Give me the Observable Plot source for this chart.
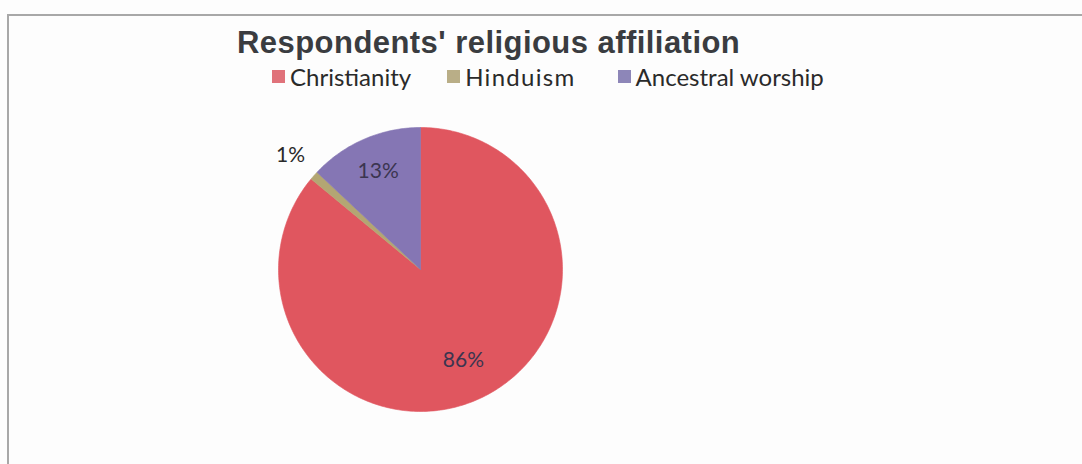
<!DOCTYPE html>
<html>
<head>
<meta charset="utf-8">
<script src="https://cdn.jsdelivr.net/npm/d3@7"></script>
<script src="https://cdn.jsdelivr.net/npm/@observablehq/plot@0.6"></script>
<style>
  html, body { margin: 0; padding: 0; background: #fdfdfd; }
  #wrap { position: relative; width: 1082px; height: 464px; overflow: hidden; background: #fdfdfd; }
  #frame { position: absolute; left: 7px; top: 14px; width: 1100px; height: 500px; border-left: 2px solid #a8a8a8; border-top: 2px solid #a8a8a8; box-sizing: border-box; }
  #title { position: absolute; left: 237px; top: 25px; font-family: "Liberation Sans", Arial, sans-serif; font-weight: bold; font-size: 31px; letter-spacing: 0.45px; color: #3a3c40; white-space: nowrap; }
  #legend { position: absolute; left: 272px; top: 62px; font-family: Lato, "Open Sans", sans-serif; font-size: 24px; color: #2a2a2a; white-space: nowrap; display: flex; }
  .item { display: flex; align-items: center; }
  .sw { width: 13px; height: 13px; margin-right: 5px; display: inline-block; }
  #chart { position: absolute; left: 0; top: 0; }
</style>
</head>
<body>
<div id="wrap">
  <div id="frame"></div>
  <div id="chart"></div>
  <div id="title">Respondents' religious affiliation</div>
  <div id="legend"></div>
</div>
<script>
const religions = ["Christianity", "Hinduism", "Ancestral worship"];
const shares = [86, 1, 13];
const labels = ["86%", "1%", "13%"];
const colors = ["#e0565f", "#b3a673", "#8576b4"];
const legendColors = ["#e0727a", "#b9ae87", "#8d86b8"];

// legend (HTML)
const legend = document.getElementById("legend");
const gaps = [0, 36, 42];
const spacing = [0, 1.3, 0];
religions.forEach((r, i) => {
  const it = document.createElement("span");
  it.className = "item";
  it.style.marginLeft = gaps[i] + "px";
  const sw = document.createElement("span");
  sw.className = "sw";
  sw.style.background = legendColors[i];
  it.appendChild(sw);
  const t = document.createElement("span");
  t.textContent = r;
  t.style.letterSpacing = spacing[i] + "px";
  it.appendChild(t);
  legend.appendChild(it);
});

// pie geometry from d3.pie (clockwise from 12 o'clock)
const pie = d3.pie().sort(null).value(d => d.value)(religions.map((r, i) => ({religion: r, value: shares[i], label: labels[i]})));
const arcPoints = [];
for (const s of pie) {
  const n = Math.max(4, Math.ceil((s.endAngle - s.startAngle) / (Math.PI / 180)));
  arcPoints.push({religion: s.data.religion, px: 0, py: 0});
  for (let k = 0; k <= n; k++) {
    const a = s.startAngle + (s.endAngle - s.startAngle) * k / n;
    arcPoints.push({religion: s.data.religion, px: Math.sin(a), py: Math.cos(a)});
  }
  arcPoints.push({religion: s.data.religion, px: 0, py: 0});
}
const labelPoints = pie.map(s => {
  const a = (s.startAngle + s.endAngle) / 2;
  const rr = s.data.value < 5 ? 1.22 : (s.data.value > 50 ? 0.71 : 0.75);
  return {label: s.data.label, px: Math.sin(a) * rr, py: Math.cos(a) * rr, outside: s.data.value < 5};
});

const W = 1082, H = 464, R = 142, cx = 420, cy = 269;
const chart = Plot.plot({
  width: W, height: H,
  margin: 0,
  x: {domain: [-cx / R, (W - cx) / R], axis: null},
  y: {domain: [-(H - cy) / R, cy / R], axis: null},
  color: {domain: religions, range: colors},
  marks: [
    Plot.line(arcPoints, {x: "px", y: "py", z: "religion", fill: "religion", stroke: "religion", strokeWidth: 0.6, curve: "linear"}),
    Plot.text(labelPoints, {x: "px", y: "py", text: "label", fontSize: 21, fontFamily: "Lato, 'Open Sans', sans-serif",
      fill: d => d.outside ? "#2a2a2a" : "#3b3550"})
  ]
});
chart.style.background = "transparent";
document.getElementById("chart").appendChild(chart);
</script>
</body>
</html>
